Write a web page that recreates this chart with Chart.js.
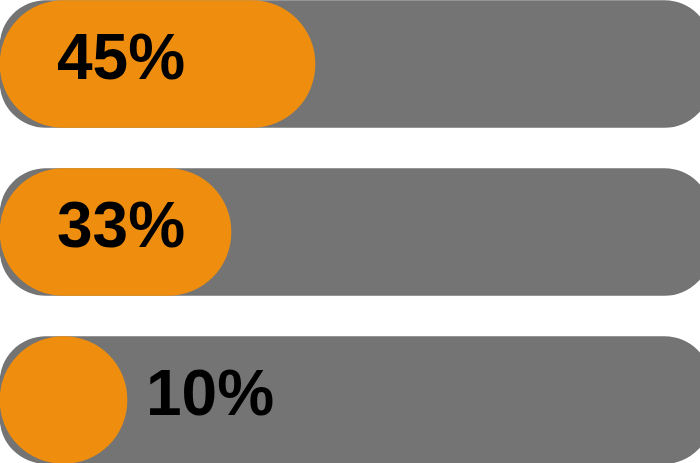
<!DOCTYPE html>
<html>
<head>
<meta charset="utf-8">
<script src="https://cdn.jsdelivr.net/npm/chart.js@4/dist/chart.umd.min.js"></script>
<style>
  html, body { margin: 0; padding: 0; background: #ffffff; overflow: hidden; }
  #wrap { position: relative; width: 700px; height: 463px; overflow: hidden; }
  #c { position: absolute; left: 0; top: -20.5px; }
</style>
</head>
<body>
<div id="wrap"><canvas id="c" width="700" height="504"></canvas></div>
<script>
const categories = ['A', 'B', 'C'];
const values = [45, 33, 10];
const trackRange = [0, 101.5];
const tickMin = 0;
const tickMax = 100;

const ORANGE = '#EF8E0E';
const GREY = '#747474';

const labelPlugin = {
  id: 'pctLabels',
  afterDatasetsDraw(chart) {
    const meta = chart.getDatasetMeta(0);
    const ctx = chart.ctx;
    ctx.save();
    ctx.font = 'bold 64px "Liberation Sans", Arial, sans-serif';
    ctx.fillStyle = '#000000';
    ctx.textBaseline = 'middle';
    meta.data.forEach((bar, i) => {
      const text = values[i] + '%';
      const w = bar.x - bar.base;
      const y = bar.y - 3;
      if (w > 200) {
        ctx.textAlign = 'center';
        ctx.fillText(text, bar.base + 121, y);
      } else {
        ctx.textAlign = 'left';
        ctx.fillText(text, bar.x + 19, y);
      }
    });
    ctx.restore();
  }
};

new Chart(document.getElementById('c'), {
  type: 'bar',
  data: {
    labels: categories,
    datasets: [
      {
        data: values,
        backgroundColor: ORANGE,
        borderWidth: 0,
        borderRadius: 64,
        borderSkipped: false,
        barThickness: 127,
        minBarLength: 127,
        grouped: false,
        order: 0
      },
      {
        data: categories.map(() => trackRange),
        backgroundColor: GREY,
        borderWidth: 0,
        borderRadius: 46,
        borderSkipped: false,
        barThickness: 127,
        grouped: false,
        clip: false,
        order: 1
      }
    ]
  },
  options: {
    indexAxis: 'y',
    responsive: false,
    animation: false,
    devicePixelRatio: 1,
    layout: { padding: 0 },
    plugins: { legend: { display: false }, tooltip: { enabled: false } },
    scales: {
      x: { min: tickMin, max: tickMax, display: false },
      y: { display: false, offset: true }
    }
  },
  plugins: [labelPlugin]
});
</script>
</body>
</html>
